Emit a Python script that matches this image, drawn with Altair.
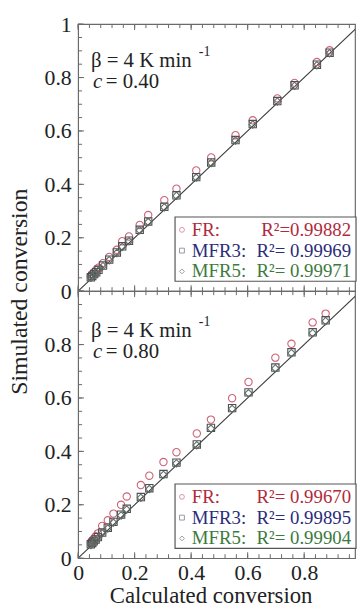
import altair as alt
import pandas as pd

# ---- data: calculated vs simulated conversion, beta = 4 K/min ----
methods = ["FR", "MFR3", "MFR5"]

# c = 0.40
x_c40 = [0.045, 0.050, 0.057, 0.064, 0.072, 0.088, 0.110, 0.137, 0.156, 0.180, 0.218,
         0.248, 0.305, 0.348, 0.418, 0.471, 0.557, 0.618, 0.705, 0.766, 0.845, 0.890]
fr_c40 = [0.058, 0.064, 0.072, 0.080, 0.088, 0.105, 0.128, 0.155, 0.187, 0.205, 0.248,
          0.285, 0.341, 0.384, 0.452, 0.501, 0.584, 0.640, 0.722, 0.780, 0.858, 0.902]
mfr3_c40 = [0.052, 0.057, 0.064, 0.071, 0.080, 0.096, 0.118, 0.145, 0.168, 0.189, 0.230,
            0.261, 0.316, 0.359, 0.427, 0.482, 0.566, 0.626, 0.712, 0.771, 0.848, 0.893]
mfr5_c40 = [0.050, 0.055, 0.062, 0.069, 0.078, 0.094, 0.116, 0.143, 0.166, 0.187, 0.228,
            0.259, 0.314, 0.357, 0.425, 0.480, 0.564, 0.624, 0.710, 0.769, 0.846, 0.891]
r2_c40 = ["R²=0.99882", "R²= 0.99969", "R²= 0.99971"]

# c = 0.80
x_c80 = [0.045, 0.050, 0.055, 0.062, 0.070, 0.085, 0.105, 0.125, 0.152, 0.172, 0.222,
         0.252, 0.302, 0.348, 0.420, 0.470, 0.545, 0.603, 0.698, 0.755, 0.830, 0.876]
fr_c80 = [0.060, 0.066, 0.073, 0.082, 0.093, 0.121, 0.142, 0.167, 0.200, 0.231, 0.274,
          0.309, 0.360, 0.397, 0.467, 0.519, 0.599, 0.660, 0.751, 0.803, 0.883, 0.916]
mfr3_c80 = [0.052, 0.057, 0.063, 0.070, 0.079, 0.096, 0.114, 0.136, 0.163, 0.185, 0.229,
            0.262, 0.315, 0.358, 0.426, 0.488, 0.562, 0.621, 0.714, 0.771, 0.846, 0.891]
mfr5_c80 = [0.049, 0.054, 0.060, 0.067, 0.076, 0.093, 0.111, 0.133, 0.160, 0.182, 0.226,
            0.259, 0.312, 0.355, 0.423, 0.485, 0.559, 0.618, 0.711, 0.768, 0.843, 0.888]
r2_c80 = ["R²= 0.99670", "R²= 0.99895", "R²= 0.99904"]

y_labels_top = [0, 0.2, 0.4, 0.6, 0.8, 1]
y_labels_bottom = [0, 0.2, 0.4, 0.6, 0.8]
x_labels = [0, 0.2, 0.4, 0.6, 0.8]
y_major_ticks = [0, 0.2, 0.4, 0.6, 0.8, 1.0]
x_major_ticks = [0, 0.2, 0.4, 0.6, 0.8]
y_minor_ticks = [round(i * 0.05, 2) for i in range(21)]
x_minor_ticks = [round(i * 0.04, 2) for i in range(25)]

# ---- styling ----
FONT = "Liberation Serif"
INK = "#222222"
FRAME = "#6a6a6a"
W, H = 280, 270
X_MAX = 0.98
marker_shapes = ["circle", "square", "diamond"]
marker_colors = ["#cc6476", "#4d4d5c", "#5e6e5e"]
legend_marker_colors = ["#c86a7c", "#6e6e80", "#6e7e6e"]
text_colors = ["#b02a3c", "#2b2b7a", "#3d7a3d"]

xscale = alt.Scale(domain=[0, X_MAX], nice=False, zero=False)
yscale = alt.Scale(domain=[0, 1], nice=False, zero=False)
one = pd.DataFrame({"k": [0]})


def y_axis(values, title):
    kw = dict(values=values, labelExpr="format(datum.value, '~g')", ticks=False,
              domain=False, grid=False, labelFont=FONT, labelFontSize=22,
              labelColor=INK, labelPadding=7)
    if title:
        kw.update(title=title, titleFont=FONT, titleFontSize=24, titleFontWeight="normal",
                  titleColor=INK, titleX=-71, titleY=H, titleAngle=270,
                  titleBaseline="top", titleAlign="center")
    else:
        kw.update(title=None)
    return alt.Axis(**kw)


def x_axis(show):
    if not show:
        return None
    return alt.Axis(values=x_labels, labelExpr="format(datum.value, '~g')", ticks=False,
                    domain=False, grid=False, labelFont=FONT, labelFontSize=22,
                    labelColor=INK, labelPadding=5, labelFlush=False,
                    title="Calculated conversion", titleFont=FONT, titleFontSize=23,
                    titleFontWeight="normal", titleColor=INK, titleX=134, titleY=27,
                    titleBaseline="top", titleAlign="center")


def panel(xv, series, r2_texts, c_text, bottom, ann_dy):
    n = len(xv)
    df = pd.DataFrame({
        "calc": xv * 3,
        "sim": series[0] + series[1] + series[2],
        "method": [m for m in methods for _ in range(n)],
    })
    X = alt.X("calc:Q", scale=xscale, axis=x_axis(bottom))
    Y = alt.Y("sim:Q", scale=yscale,
              axis=y_axis(y_labels_bottom if bottom else y_labels_top,
                          None if bottom else "Simulated conversion"))

    diag = alt.Chart(pd.DataFrame({"calc": [0, 1], "sim": [0, 1]})).mark_line(
        color="#3a3a3a", strokeWidth=1.1, clip=True).encode(x=X, y=Y)

    pts = alt.Chart(df).mark_point(filled=False, size=55, strokeWidth=1.1, opacity=1).encode(
        x=X, y=Y,
        shape=alt.Shape("method:N", scale=alt.Scale(domain=methods, range=marker_shapes),
                        legend=None),
        color=alt.Color("method:N", scale=alt.Scale(domain=methods, range=marker_colors),
                        legend=None),
        order=alt.Order("method:N"),
    )

    # inward tick marks on left, top and bottom edges
    ymaj = pd.DataFrame({"sim": y_major_ticks})
    ymin = pd.DataFrame({"sim": y_minor_ticks})
    xmaj = pd.DataFrame({"calc": x_major_ticks})
    xmin = pd.DataFrame({"calc": x_minor_ticks})
    tick_style = dict(color=FRAME, strokeWidth=1)
    ticks = [
        alt.Chart(ymaj).mark_rule(**tick_style).encode(y=Y, x=alt.value(0), x2=alt.value(6)),
        alt.Chart(ymin).mark_rule(**tick_style).encode(y=Y, x=alt.value(0), x2=alt.value(4)),
        alt.Chart(xmaj).mark_rule(**tick_style).encode(x=X, y=alt.value(0), y2=alt.value(6)),
        alt.Chart(xmin).mark_rule(**tick_style).encode(x=X, y=alt.value(0), y2=alt.value(4)),
        alt.Chart(xmaj).mark_rule(**tick_style).encode(x=X, y=alt.value(H), y2=alt.value(H - 6)),
        alt.Chart(xmin).mark_rule(**tick_style).encode(x=X, y=alt.value(H), y2=alt.value(H - 4)),
    ]

    # legend box with R² values
    box = alt.Chart(one).mark_rect(fill="white", stroke="#555555", strokeWidth=1.2).encode(
        x=alt.value(98), x2=alt.value(281), y=alt.value(195), y2=alt.value(260))
    legend = [box]
    for i, m in enumerate(methods):
        ry = 208 + 21 * i
        legend.append(alt.Chart(one).mark_point(
            shape=marker_shapes[i], filled=False, size=24, strokeWidth=1,
            color=legend_marker_colors[i]).encode(x=alt.value(105), y=alt.value(ry)))
        legend.append(alt.Chart(one).mark_text(
            text=m + ":", align="left", baseline="middle", font=FONT, fontSize=19,
            color=text_colors[i]).encode(x=alt.value(115), y=alt.value(ry)))
        legend.append(alt.Chart(one).mark_text(
            text=r2_texts[i], align="right", baseline="middle", font=FONT, fontSize=19,
            color=text_colors[i]).encode(x=alt.value(276), y=alt.value(ry)))

    # heating rate / c annotation
    ann = [
        alt.Chart(one).mark_text(text="β = 4 K min", align="left", baseline="alphabetic",
                                 font=FONT, fontSize=21, color=INK).encode(
            x=alt.value(13), y=alt.value(43 + ann_dy)),
        alt.Chart(one).mark_text(text="-1", align="left", baseline="alphabetic",
                                 font=FONT, fontSize=14, color=INK).encode(
            x=alt.value(122), y=alt.value(32 + ann_dy)),
        alt.Chart(one).mark_text(text="c", align="left", baseline="alphabetic", font=FONT,
                                 fontSize=21, fontStyle="italic", color=INK).encode(
            x=alt.value(15), y=alt.value(65 + ann_dy)),
        alt.Chart(one).mark_text(text="= " + c_text, align="left", baseline="alphabetic",
                                 font=FONT, fontSize=21, color=INK).encode(
            x=alt.value(28), y=alt.value(65 + ann_dy)),
    ]

    return alt.layer(diag, *ticks, *legend, pts, *ann).properties(width=W, height=H)


top = panel(x_c40, [fr_c40, mfr3_c40, mfr5_c40], r2_c40, "0.40", False, 0)
bottom = panel(x_c80, [fr_c80, mfr3_c80, mfr5_c80], r2_c80, "0.80", True, 3)

chart = alt.vconcat(top, bottom, spacing=0, bounds="flush").properties(
    padding={"left": 7, "top": 9, "right": 0, "bottom": 0},
    background="white",
).configure_view(stroke=FRAME, strokeWidth=1.2)

chart.save("out.html", embed_options={"renderer": "svg", "actions": False})
